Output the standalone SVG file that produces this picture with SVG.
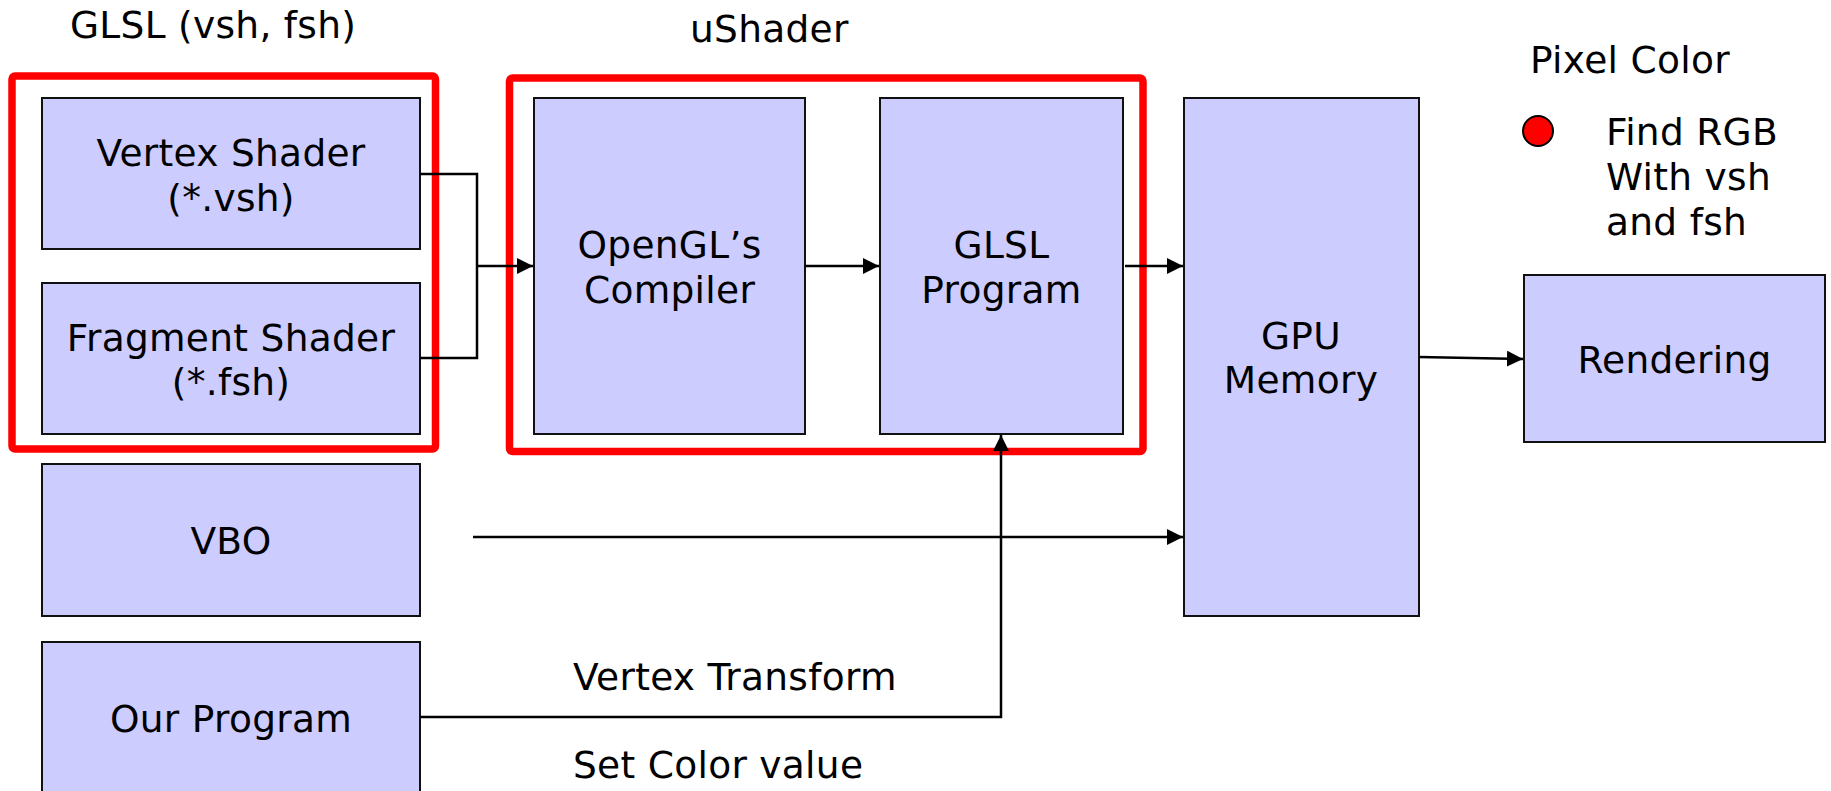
<svg xmlns="http://www.w3.org/2000/svg" width="1831" height="791" viewBox="0 0 1831 791">
  <style>
    .box { fill: #CCCCFF; stroke: #111; stroke-width: 2; }
    .group { fill: none; stroke: #FF0000; stroke-width: 7.5; }
    .t { font-family: "DejaVu Sans", Verdana, sans-serif; font-size: 37.5px; letter-spacing: 0.3px; fill: #000; }
    .c { text-anchor: middle; }
    .wire { fill: none; stroke: #000; stroke-width: 2.5; }
  </style>
  <defs>
    <marker id="arrow" viewBox="0 0 10 10" refX="10" refY="5" markerWidth="16" markerHeight="16" markerUnits="userSpaceOnUse" orient="auto">
      <path d="M0,0 L10,5 L0,10 Z" fill="#000"/>
    </marker>
  </defs>
  <rect width="1831" height="791" fill="#fff"/>

  <!-- titles -->
  <text class="t" x="70" y="38">GLSL (vsh, fsh)</text>
  <text class="t" x="690" y="42">uShader</text>
  <text class="t" x="1530" y="73">Pixel Color</text>

  <!-- red grouping frames -->
  <rect class="group" x="12" y="76" width="423.5" height="373" rx="3"/>
  <rect class="group" x="509.5" y="78" width="633.5" height="373.5" rx="3"/>

  <g id="vertex-shader">
    <rect class="box" x="42" y="98" width="378" height="151"/>
    <text class="t c" x="231" y="166">Vertex Shader</text>
    <text class="t c" x="231" y="211">(*.vsh)</text>
  </g>
  <g id="fragment-shader">
    <rect class="box" x="42" y="283" width="378" height="151"/>
    <text class="t c" x="231" y="351">Fragment Shader</text>
    <text class="t c" x="231" y="395">(*.fsh)</text>
  </g>
  <g id="vbo">
    <rect class="box" x="42" y="464" width="378" height="152"/>
    <text class="t c" x="231" y="554">VBO</text>
  </g>
  <g id="our-program">
    <rect class="box" x="42" y="642" width="378" height="170"/>
    <text class="t c" x="231" y="732">Our Program</text>
  </g>
  <g id="compiler">
    <rect class="box" x="534" y="98" width="271" height="336"/>
    <text class="t c" x="669.5" y="258">OpenGL’s</text>
    <text class="t c" x="669.5" y="303">Compiler</text>
  </g>
  <g id="glsl-program">
    <rect class="box" x="880" y="98" width="243" height="336"/>
    <text class="t c" x="1001.5" y="258">GLSL</text>
    <text class="t c" x="1001.5" y="303">Program</text>
  </g>
  <g id="gpu-memory">
    <rect class="box" x="1184" y="98" width="235" height="518"/>
    <text class="t c" x="1301" y="349">GPU</text>
    <text class="t c" x="1301" y="393">Memory</text>
  </g>
  <g id="rendering">
    <rect class="box" x="1524" y="275" width="301" height="167"/>
    <text class="t c" x="1674.5" y="373">Rendering</text>
  </g>
  <g id="pixel-color-note">
    <circle cx="1538" cy="131" r="15" fill="#FF0000" stroke="#000" stroke-width="2"/>
    <text class="t" x="1606" y="145">Find RGB</text>
    <text class="t" x="1606" y="190">With vsh</text>
    <text class="t" x="1606" y="235">and fsh</text>
  </g>

  <g id="connectors">
    <path class="wire" d="M420,174 H477 V358 H420"/>
    <path class="wire" d="M477,266 H533" marker-end="url(#arrow)"/>
    <path class="wire" d="M805,266 H879" marker-end="url(#arrow)"/>
    <path class="wire" d="M1125,266 H1183" marker-end="url(#arrow)"/>
    <path class="wire" d="M1419,357 L1523,359" marker-end="url(#arrow)"/>
    <path class="wire" d="M473,537 H1183" marker-end="url(#arrow)"/>
    <path class="wire" d="M420,717 H1001 V435" marker-end="url(#arrow)"/>
    <text class="t" x="573" y="690">Vertex Transform</text>
    <text class="t" x="573" y="778">Set Color value</text>
  </g>
</svg>
